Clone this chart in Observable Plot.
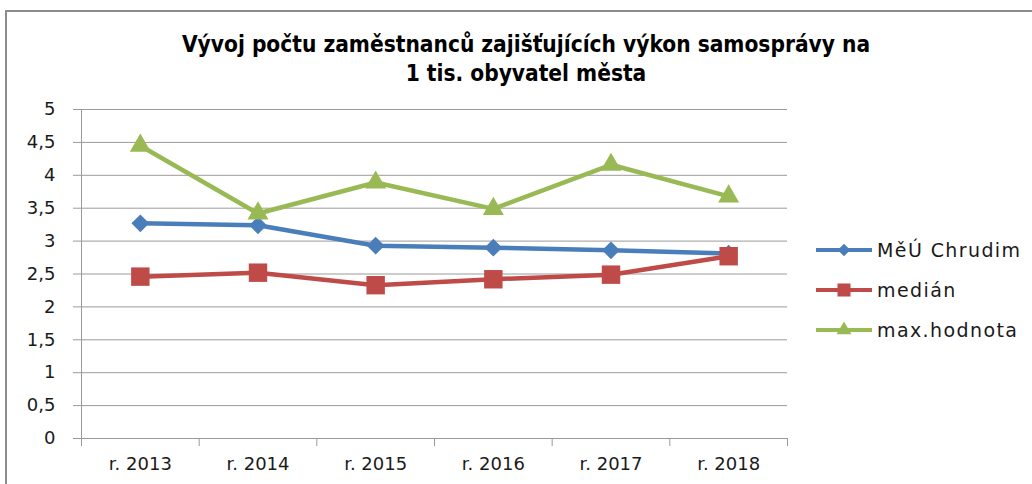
<!DOCTYPE html>
<html>
<head>
<meta charset="utf-8">
<script src="https://cdn.jsdelivr.net/npm/d3@7"></script>
<script src="https://cdn.jsdelivr.net/npm/@observablehq/plot@0.6"></script>
<style>
  html, body { margin: 0; padding: 0; background: #fff; }
  #wrap { position: relative; width: 1032px; height: 484px; overflow: hidden; }
  #border { position: absolute; left: 5px; top: 10px; width: 1040px; height: 500px;
            border-top: 2px solid #8c8c8c; border-left: 2px solid #8c8c8c; }
  #title { position: absolute; left: 0; width: 1052px; top: 30px; text-align: center;
           font-family: "DejaVu Sans Condensed", "DejaVu Sans", sans-serif; font-weight: bold;
           font-size: 22.5px; line-height: 29px; color: #000; }
  #legend { position: absolute; left: 815px; top: 230px; font-family: "DejaVu Sans", sans-serif;
            font-size: 19px; letter-spacing: 1.4px; color: #1a1a1a; }
  .item { height: 40px; display: flex; align-items: center; }
  .item svg { margin-right: 4px; }
  #chart { position: absolute; left: 0; top: 0; }
</style>
</head>
<body>
<div id="wrap">
  <div id="border"></div>
  <div id="chart"></div>
  <div id="title">Vývoj počtu zaměstnanců zajišťujících výkon samosprávy na<br>1 tis. obyvatel města</div>
  <div id="legend"></div>
</div>
<script>
const years = [2013, 2014, 2015, 2016, 2017, 2018];
const yearLabels = ["r. 2013", "r. 2014", "r. 2015", "r. 2016", "r. 2017", "r. 2018"];
const seriesNames = ["MěÚ Chrudim", "medián", "max.hodnota"];
const chrudim = [3.27, 3.24, 2.93, 2.90, 2.86, 2.81];
const median = [2.46, 2.52, 2.33, 2.42, 2.49, 2.77];
const maxHodnota = [4.45, 3.42, 3.89, 3.49, 4.16, 3.68];
const yTicks = [0, 0.5, 1, 1.5, 2, 2.5, 3, 3.5, 4, 4.5, 5];

const colors = ["#4a7ebb", "#be4b48", "#98b954"];
const symbols = ["diamond2", "square", "triangle"];
const radii = [8, 10.4, 7.8];

const seriesValues = [chrudim, median, maxHodnota];
const data = seriesNames.flatMap((name, s) =>
  years.map((year, i) => ({series: name, year, value: seriesValues[s][i]})));

const boundaries = years.map(y => y - 0.5).concat([years[years.length - 1] + 0.5]);
const labelOf = new Map(years.map((y, i) => [y, yearLabels[i]]));

const marks = [
  Plot.gridY(yTicks, {stroke: "#9a9a9a", strokeOpacity: 1, strokeWidth: 1}),
  Plot.axisY({ticks: yTicks, tickSize: 8, tickPadding: 18, stroke: "#9a9a9a",
              tickFormat: d => String(d).replace(".", ","),
              fontSize: 18, fontFamily: "DejaVu Sans, sans-serif", fill: "#1a1a1a", label: null}),
  Plot.axisX({ticks: boundaries, tickSize: 8, tickFormat: () => "", stroke: "#9a9a9a", label: null}),
  Plot.axisX({ticks: years, tickSize: 0, tickPadding: 19, tickFormat: d => labelOf.get(d),
              fontSize: 18, fontFamily: "DejaVu Sans, sans-serif", fill: "#1a1a1a", label: null}),
  Plot.ruleX([boundaries[0]], {stroke: "#9a9a9a"}),
  Plot.ruleY([0], {stroke: "#9a9a9a"})
];
seriesNames.forEach((name, s) => {
  const rows = data.filter(d => d.series === name);
  marks.push(Plot.lineY(rows, {x: "year", y: "value", stroke: colors[s], strokeWidth: 4.5}));
  marks.push(Plot.dot(rows, {x: "year", y: "value", symbol: () => symbols[s], r: radii[s],
                             fill: colors[s], stroke: "none"}));
});

const chart = Plot.plot({
  width: 1032,
  height: 484,
  marginTop: 109,
  marginBottom: 46,
  marginLeft: 81,
  marginRight: 245,
  x: {type: "linear", domain: [boundaries[0], boundaries[boundaries.length - 1]]},
  y: {domain: [0, 5]},
  symbol: {type: "identity"},
  style: {background: "transparent", overflow: "visible"},
  marks
});
document.getElementById("chart").append(chart);

// Legend
const legend = document.getElementById("legend");
seriesNames.forEach((name, s) => {
  const item = document.createElement("div");
  item.className = "item";
  const sym = d3.symbol().type([d3.symbolDiamond2, d3.symbolSquare, d3.symbolTriangle][s])
                .size(Math.PI * radii[s] * radii[s] * 0.5)();
  item.innerHTML = `<svg width="58" height="20" viewBox="0 0 58 20">
      <line x1="1" x2="57" y1="10" y2="10" stroke="${colors[s]}" stroke-width="4"/>
      <path d="${sym}" transform="translate(29,10)" fill="${colors[s]}"/></svg><span>${name}</span>`;
  legend.append(item);
});
</script>
</body>
</html>
